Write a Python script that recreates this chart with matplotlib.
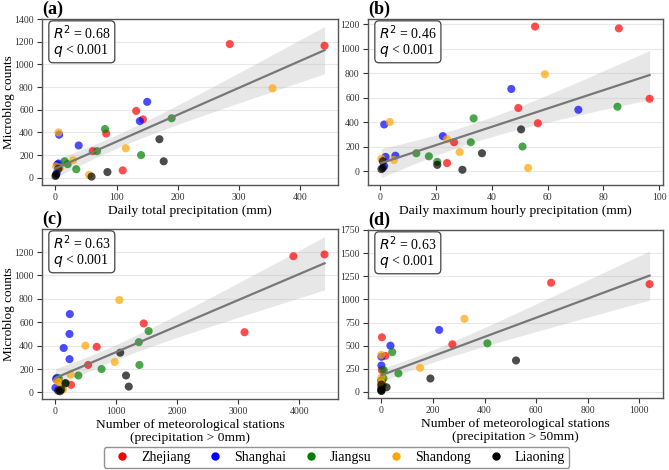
import numpy as np
import matplotlib
matplotlib.use("Agg")
import matplotlib.pyplot as plt
from matplotlib.lines import Line2D

plt.rcParams['font.family'] = ['Liberation Serif', 'DejaVu Serif']
plt.rcParams['mathtext.fontset'] = 'dejavusans'

provinces = ["Zhejiang", "Shanghai", "Jiangsu", "Shandong", "Liaoning"]
colors = ["red", "blue", "green", "orange", "black"]

# Microblog counts per province (shared across panels)
counts = {
    "Zhejiang": [1180, 1165, 590, 515, 390, 235, 65],
    "Shanghai": [670, 500, 380, 285, 115, 125, 40],
    "Jiangsu":  [525, 430, 235, 200, 145, 120, 75],
    "Shandong": [790, 400, 260, 155, 100, 90, 25],
    "Liaoning": [340, 145, 50, 10, 80, 15, 25],
}
# (a) Daily total precipitation (mm)
total_precip = {
    "Zhejiang": [285, 440, 132, 143, 83, 61, 110],
    "Shanghai": [150, 138, 6, 38, 3, 5, 2],
    "Jiangsu":  [190, 81, 68, 140, 15, 20, 34],
    "Shandong": [355, 5, 115, 29, 1, 8, 55],
    "Liaoning": [170, 177, 85, 59, 5, 0, 1],
}
# (b) Daily maximum hourly precipitation (mm)
max_hourly = {
    "Zhejiang": [55.5, 85.5, 96.5, 49.5, 56.5, 26.5, 24.0],
    "Shanghai": [47.0, 71.0, 1.5, 22.5, 2.0, 5.5, 1.5],
    "Jiangsu":  [85.0, 33.5, 32.5, 51.0, 13.0, 17.5, 20.5],
    "Shandong": [59.0, 3.5, 24.0, 28.5, 0.5, 5.0, 53.0],
    "Liaoning": [50.5, 36.5, 20.5, 29.5, 1.0, 0.5, 1.0],
}
# (c) Number of stations (precipitation > 0mm)
stations_0 = {
    "Zhejiang": [4410, 3900, 1450, 3100, 680, 540, 260],
    "Shanghai": [240, 235, 140, 235, 15, 30, 5],
    "Jiangsu":  [1530, 1370, 1380, 760, 380, 60, 165],
    "Shandong": [1050, 495, 975, 250, 30, 60, 130],
    "Liaoning": [1065, 1160, 1205, 80, 170, 50, 100],
}
# (d) Number of stations (precipitation > 50mm)
stations_50 = {
    "Zhejiang": [658, 1040, 2, 275, 15, 2, 0],
    "Shanghai": [224, 35, 0, 0, 2, 0, 0],
    "Jiangsu":  [411, 42, 9, 66, 8, 0, 5],
    "Shandong": [322, 0, 150, 0, 0, 0, 0],
    "Liaoning": [522, 190, 20, 0, 0, 0, 0],
}

panels = [
    ("(a)", total_precip, "Daily total precipitation (mm)", "0.68", [0, 100, 200, 300, 400], [0, 200, 400, 600, 800, 1000, 1200, 1400], True),
    ("(b)", max_hourly, "Daily maximum hourly precipitation (mm)", "0.46", [0, 20, 40, 60, 80, 100], [0, 200, 400, 600, 800, 1000, 1200], False),
    ("(c)", stations_0, "Number of meteorological stations\n(precipitation > 0mm)", "0.63", [0, 1000, 2000, 3000, 4000], [0, 200, 400, 600, 800, 1000, 1200], True),
    ("(d)", stations_50, "Number of meteorological stations\n(precipitation > 50mm)", "0.63", [0, 200, 400, 600, 800, 1000], [0, 250, 500, 750, 1000, 1250, 1500, 1750], False),
]

W, H = 669, 470
fig = plt.figure(figsize=(W / 100, H / 100), dpi=100)
rects = [(42, 19, 296, 166), (368, 19, 295, 166), (42, 229, 296, 170), (368, 230, 295, 168)]

frame_color = "#555555"
for (label, xdict, xlabel, r2, xticks, yticks, ylab), (l, t, w, h) in zip(panels, rects):
    ax = fig.add_axes([l / W, 1 - (t + h) / H, w / W, h / H])
    xs_all, ys_all = [], []
    for p, c in zip(provinces, colors):
        x = np.array(xdict[p], float)
        y = np.array(counts[p], float)
        xs_all.append(x)
        ys_all.append(y)
        ax.scatter(x, y, s=34, color=c, alpha=0.7, edgecolors='none', zorder=3)
    X = np.concatenate(xs_all)
    Y = np.concatenate(ys_all)
    n = len(X)
    b, a = np.polyfit(X, Y, 1)
    xg = np.linspace(X.min(), X.max(), 100)
    yg = a + b * xg
    resid = Y - (a + b * X)
    s = np.sqrt(np.sum(resid ** 2) / (n - 2))
    Sxx = np.sum((X - X.mean()) ** 2)
    se = s * np.sqrt(1 / n + (xg - X.mean()) ** 2 / Sxx)
    tval = 2.035
    ax.fill_between(xg, yg - tval * se, yg + tval * se, color="#bbbbbb", alpha=0.35, linewidth=0, zorder=2)
    ax.plot(xg, yg, color="#777777", lw=1.6, zorder=4)

    ax.set_xticks(xticks)
    ax.set_yticks(yticks)
    ax.grid(axis='y', color="#e8e8e8", lw=0.8, zorder=0)
    ax.set_axisbelow(True)
    for sp in ax.spines.values():
        sp.set_color(frame_color)
        sp.set_linewidth(1.0)
    ax.tick_params(axis='both', labelsize=7, colors="#333333", length=3.5, width=0.8, pad=2.5)
    ax.set_xlabel(xlabel, fontsize=9.7, labelpad=2, linespacing=1.1)
    if ylab:
        ax.set_ylabel("Microblog counts", fontsize=9.5)
        ax.yaxis.set_label_coords((15 - l) / w, 0.5)
    ax.text(11 / w, 1 - 4 / h, "$R^2$ = " + r2 + "\n$q$ < 0.001", transform=ax.transAxes,
            fontsize=10, va='top', ha='left', linespacing=1.0,
            bbox=dict(boxstyle="round,pad=0.3", facecolor="white", edgecolor="#444444", lw=0.9), zorder=6)
    fig.text(l / W, 1 - (t - 10) / H, label, fontsize=13, fontweight='bold',
             ha='left', va='center')

handles = [Line2D([0], [0], marker='o', color='none', markerfacecolor=c, markeredgecolor='none',
                  markersize=6, label=p) for p, c in zip(provinces, colors)]
fig.legend(handles=handles, loc='center', bbox_to_anchor=(336.5 / W, 1 - 457.5 / H), ncol=5,
           fontsize=10, frameon=True, fancybox=True, edgecolor="#777777",
           columnspacing=0.75, handletextpad=0.4, borderpad=0.3, handlelength=2.0)

fig.savefig("out.png", dpi=100)
